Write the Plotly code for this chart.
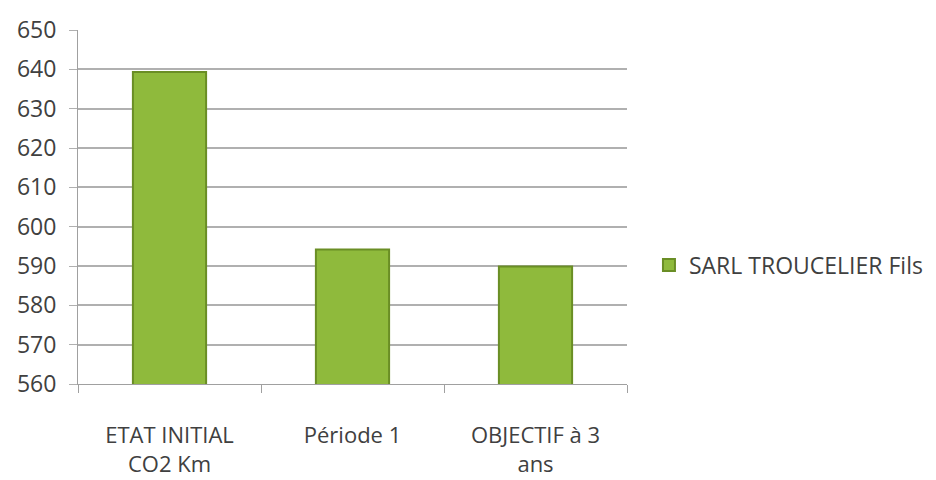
import plotly.graph_objects as go

categories = ["ETAT INITIAL<br>CO2 Km", "Période 1", "OBJECTIF à 3<br>ans"]
values = [639.3, 594.2, 589.9]
series_name = "SARL TROUCELIER Fils"
y_ticks = [560, 570, 580, 590, 600, 610, 620, 630, 640, 650]

font_family = "Open Sans, sans-serif"

fig = go.Figure()
fig.add_trace(go.Bar(
    x=categories, y=values, name=series_name,
    width=0.4,
    marker=dict(color="#8FBA3C", line=dict(color="#6A8E25", width=2)),
    showlegend=True,
))

fig.update_layout(
    width=936, height=480,
    margin=dict(l=70, r=317, t=22, b=104),
    paper_bgcolor="white", plot_bgcolor="white",
    font=dict(family=font_family, size=23, color="#404040"),
    showlegend=True,
    legend=dict(x=1.04, y=0.336, xanchor="left", yanchor="middle",
                font=dict(size=23, color="#404040")),
    xaxis=dict(showline=True, linecolor="#A0A0A0", linewidth=1,
               ticks="outside", ticklen=8, tickcolor="#A0A0A0",
               tickson="boundaries", ticklabelstandoff=32,
               automargin=False, tickfont=dict(size=22)),
    yaxis=dict(range=[560, 650], tickvals=y_ticks, showgrid=True,
               gridcolor="#B0B0B0", gridwidth=1.5,
               showline=True, linecolor="#A0A0A0", linewidth=1,
               ticks="outside", ticklen=8, tickcolor="#B0B0B0",
               ticklabelstandoff=8, zeroline=False, automargin=False,
               tickfont=dict(size=23)),
)

fig.write_html("out.html")
